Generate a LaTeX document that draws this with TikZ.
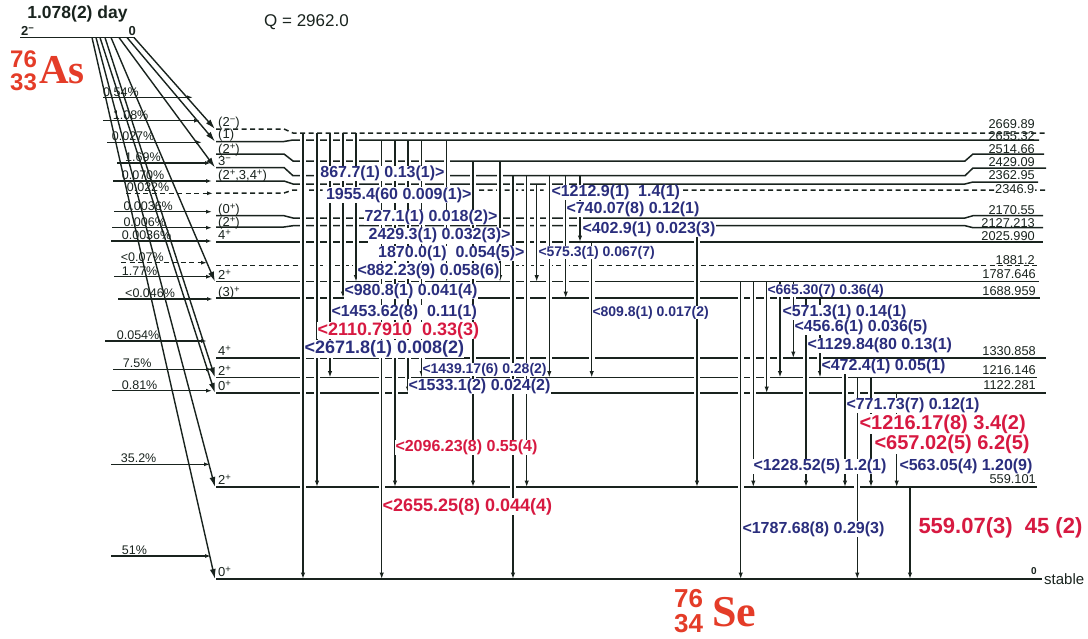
\documentclass[tikz,border=0pt]{standalone}
\usepackage{fontspec}
\setmainfont{Liberation Sans}
\newfontfamily\serifbold{Liberation Serif}
\usetikzlibrary{arrows.meta}
\definecolor{ink}{RGB}{25,35,30}
\definecolor{gblue}{RGB}{42,46,125}
\definecolor{gred}{RGB}{215,25,65}
\definecolor{elred}{RGB}{228,60,40}
\newcommand{\setfs}[1]{\fontsize{#1}{#1}\selectfont}
\newcommand{\spr}[1]{\raisebox{4pt}{\setfs{9.5}#1}}
% level y positions (main part)
\def\yA{133}\def\yB{140}\def\yC{161}\def\yD{175.7}\def\yE{184}\def\yF{190}
\def\yG{218}\def\yH{225.7}\def\yI{242}\def\yJ{265.5}\def\yK{281.7}\def\yL{298}
\def\yM{358}\def\yN{377.5}\def\yO{393}\def\yP{487}\def\yQ{579}
\newcommand{\lvline}[5][]{\draw[lvl,#1] (216,#2) -- (284,#2) -- (293,#3) -- (965,#3) -- (973,#4) -- (#5,#4);}
\newcommand{\gam}[3]{\draw[gam] (#1,#2) -- (#1,#3);}
\newcommand{\pline}[4][]{\draw[pct,#1] (#3,#2) -- (#4,#2);}
\begin{document}
\begin{tikzpicture}[x=1pt,y=-1pt,
  lvl/.style={draw=ink, line width=1.5pt},
  lvldash/.style={dash pattern=on 5pt off 3.5pt},
  gam/.style={draw=ink, line width=1.5pt, -{Latex[length=6.5pt,width=4.5pt]},
     preaction={draw=white, line width=6pt, shorten <=3pt, shorten >=3pt, arrows=-}},
  fan/.style={draw=ink, line width=1.4pt, -{Latex[length=10pt,width=6pt]}},
  pct/.style={draw=ink, line width=1.2pt, -{Latex[length=6pt,width=4pt]}},
  pctno/.style={draw=ink, line width=1.2pt},
  gl/.style={font=\bfseries\setfs{16}, text=gblue, fill=white, inner sep=0.3pt},
  gls/.style={gl, font=\bfseries\setfs{14}},
  glb/.style={gl, font=\bfseries\setfs{18}},
  rl/.style={gl, text=gred},
  rlb/.style={gl, text=gred, font=\bfseries\setfs{18}},
  rlh/.style={gl, text=gred, font=\bfseries\setfs{20}},
  pl/.style={font=\setfs{12.5}, anchor=base west, inner sep=0pt, text=ink},
  spin/.style={font=\setfs{13}, anchor=base west, inner sep=0pt, text=ink},
  en/.style={font=\setfs{12.8}, anchor=base east, inner sep=0pt, text=ink},
]
\useasboundingbox (0,0) rectangle (1088,638);

% ---------- parent ----------
\node[font=\bfseries\setfs{17.5}, text=ink, inner sep=0pt] (halflife) at (77.5,13.5) {1.078(2) day};
\draw[ink, line width=1.6pt] (20,37.5) -- (135,37.5);
\node[font=\bfseries\setfs{13}, anchor=base west, inner sep=0pt, text=ink] (pspin) at (21,35) {2\spr{−}};
\node[font=\bfseries\setfs{13}, anchor=base east, inner sep=0pt, text=ink] (pen) at (136,35) {0};
\node[font=\setfs{17}, anchor=base west, inner sep=0pt, text=ink] (qval) at (264,26) {Q = 2962.0};
\node[font=\bfseries\setfs{24}, anchor=base west, inner sep=0pt, text=elred] (asA) at (10,67) {76};
\node[font=\bfseries\setfs{24}, anchor=base west, inner sep=0pt, text=elred] (asZ) at (10,90.5) {33};
\node[font=\serifbold\bfseries\setfs{41}, anchor=base west, inner sep=0pt, text=elred] (asS) at (39,83) {As};

% ---------- levels ----------
\lvline[lvldash]{129}{\yA}{\yA}{1045}
\lvline{141.5}{\yB}{\yB}{1039}
\lvline{154}{\yC}{154}{1044}
\lvline{167.5}{\yD}{168}{1046}
\lvline{181}{\yE}{182}{1038}
\lvline[lvldash]{193}{\yF}{\yF}{1045}
\lvline{215.7}{\yG}{215.7}{1043}
\lvline{227}{\yH}{227.7}{1043}
\lvline{\yI}{\yI}{\yI}{1043}
\lvline[lvldash]{\yJ}{\yJ}{\yJ}{1037}
\lvline{\yK}{\yK}{\yK}{1039}
\lvline{\yL}{\yL}{\yL}{1040}
\lvline{\yM}{\yM}{\yM}{1046}
\lvline{\yN}{\yN}{\yN}{1037}
\lvline{\yO}{\yO}{\yO}{1046}
\lvline{\yP}{\yP}{\yP}{1037}
\lvline[line width=1.8pt]{\yQ}{\yQ}{\yQ}{1042}

% ---------- spin labels ----------
\node[spin] (s1) at (218,126.8) {(2\spr{−})};
\node[spin] (s2) at (218,138.8) {(1)};
\node[spin] (s3) at (218,153) {(2\spr{+})};
\node[spin] (s4) at (218,165.3) {3\spr{−}};
\node[spin] (s5) at (218,179) {(2\spr{+},3,4\spr{+})};
\node[spin] (s6) at (218,213.3) {(0\spr{+})};
\node[spin] (s7) at (218,226.2) {(2\spr{+})};
\node[spin] (s8) at (218,239.3) {4\spr{+}};
\node[spin] (s9) at (218,279.5) {2\spr{+}};
\node[spin] (s10) at (218,296) {(3)\spr{+}};
\node[spin] (s11) at (218,355) {4\spr{+}};
\node[spin] (s12) at (218,375) {2\spr{+}};
\node[spin] (s13) at (218,390) {0\spr{+}};
\node[spin] (s14) at (218,484.3) {2\spr{+}};
\node[spin] (s15) at (218,576.7) {0\spr{+}};

% ---------- energy labels ----------
\node[en] (e1) at (1035,128) {2669.89};
\node[en] (e2) at (1035,140) {2655.32};
\node[en] (e3) at (1035,153) {2514.66};
\node[en] (e4) at (1035,166) {2429.09};
\node[en] (e5) at (1035,179.5) {2362.95};
\node[en, fill=white, inner sep=0.5pt] (e6) at (1035,193) {2346.9};
\node[en] (e7) at (1035,214) {2170.55};
\node[en] (e8) at (1035,227) {2127.213};
\node[en] (e9) at (1035,240.5) {2025.990};
\node[en] (e10) at (1035,264.5) {1881.2};
\node[en] (e11) at (1036,278.5) {1787.646};
\node[en] (e12) at (1036,295) {1688.959};
\node[en] (e13) at (1036,355) {1330.858};
\node[en] (e14) at (1036,374.3) {1216.146};
\node[en] (e15) at (1036,389.3) {1122.281};
\node[en] (e16) at (1036,483.3) {559.101};
\node[font=\bfseries\setfs{10}, anchor=base east, inner sep=0pt, text=ink] (e17) at (1037,574) {0};
\node[font=\setfs{15}, anchor=west, inner sep=0pt, text=ink] (stable) at (1044,579.5) {stable};

% ---------- beta intensity arrows ----------
\pline{97.3}{103}{193}
\pline{120.7}{103}{200}
\pline{142.3}{107}{202}
\pline{163}{117}{211}
\pline[pctno]{181}{113}{212}
\pline[dash pattern=on 5pt off 3.5pt]{193.3}{126}{213}
\pline{211.7}{114}{212}
\pline{227.7}{112}{212}
\pline{241}{111}{212}
\pline[dash pattern=on 5pt off 3.5pt]{262.7}{121}{207}
\pline{276.7}{114}{212}
\pline{299}{118}{213}
\pline[pctno]{341}{105}{207}
\pline{369.3}{113}{212}
\pline{390.7}{112}{212}
\pline{464.3}{111}{210}
\pline{556}{111}{211}

\node[pl] (p1) at (103,96) {0.54\%};
\node[pl] (p2) at (112.7,119.2) {1.08\%};
\node[pl] (p3) at (111.7,140.8) {0.027\%};
\node[pl] (p4) at (125,161.5) {1.69\%};
\node[pl] (p5) at (121.7,179.5) {0.070\%};
\node[pl] (p6) at (126.7,191.8) {0.022\%};
\node[pl] (p7) at (123.3,210.2) {0.0036\%};
\node[pl] (p8) at (123.3,226.2) {0.006\%};
\node[pl] (p9) at (121.7,239.5) {0.0036\%};
\node[pl] (p10) at (120.7,261.2) {<0.07\%};
\node[pl] (p11) at (121.7,275.2) {1.77\%};
\node[pl] (p12) at (125,297.5) {<0.046\%};
\node[pl] (p13) at (116.7,339.5) {0.054\%};
\node[pl] (p14) at (122.7,367.8) {7.5\%};
\node[pl] (p15) at (121.7,389.2) {0.81\%};
\node[pl] (p16) at (120.7,462.8) {35.2\%};
\node[pl] (p17) at (121.7,554.5) {51\%};

% ---------- beta feeding lines from parent ----------
\draw[fan] (92,37.5) -- (215,\yQ);
\draw[fan] (96,37.5) -- (215,\yP);
\draw[fan] (100,37.5) -- (215,\yO);
\draw[fan] (105,37.5) -- (215,\yN);
\draw[fan] (111,37.5) -- (215,\yK);
\draw[fan] (119,37.5) -- (215,167.5);
\draw[fan] (127,37.5) -- (215,141.5);
\draw[fan] (134,37.5) -- (215,129);

% ---------- gamma transitions ----------
\gam{303}{\yA}{\yQ}
\gam{317}{\yA}{\yP}
\gam{330}{\yA}{\yN}
\gam{343}{\yA}{\yL}
\gam{356}{\yA}{\yK}
\gam{381.7}{\yB}{\yQ}
\gam{395}{\yB}{\yP}
\gam{408}{\yB}{\yO}
\gam{421.7}{\yB}{\yN}
\gam{446.7}{\yB}{\yK}
\gam{473}{\yC}{\yP}
\gam{500}{\yC}{\yK}
\gam{513}{\yD}{\yQ}
\gam{526.7}{\yD}{\yP}
\gam{536.7}{\yE}{\yK}
\gam{549.3}{\yD}{\yN}
\gam{565.7}{\yD}{\yL}
\gam{580}{\yD}{\yI}
\gam{591.7}{\yI}{\yN}
\gam{697}{\yH}{\yP}
\gam{740.7}{\yK}{\yQ}
\gam{753.3}{\yK}{\yP}
\gam{766.7}{\yK}{\yO}
\gam{780}{\yK}{\yN}
\gam{793.3}{\yK}{\yM}
\gam{806}{\yL}{\yP}
\gam{820}{\yL}{\yN}
\gam{845}{\yM}{\yP}
\gam{857.3}{\yN}{\yQ}
\gam{871}{\yN}{\yP}
\gam{896.7}{\yO}{\yP}
\gam{910}{\yP}{\yQ}

% ---------- gamma labels ----------
\node[gl, anchor=east] (g1) at (445,173.5) {867.7(1) 0.13(1)>};
\node[gl, anchor=east] (g2) at (472,195) {1955.4(60 0.009(1)>};
\node[gl, anchor=east] (g3) at (498,217.5) {727.1(1) 0.018(2)>};
\node[gl, anchor=east] (g4) at (511,235.8) {2429.3(1) 0.032(3)>};
\node[gl, anchor=east] (g5) at (525,253.5) {1870.0(1)\ \ 0.054(5)>};
\node[gl, anchor=west] (g6) at (357,271) {<882.23(9) 0.058(6)};
\node[gl, anchor=west] (g7) at (344,291.5) {<980.8(1) 0.041(4)};
\node[gl, anchor=west] (g8) at (331,312.5) {<1453.62(8)\ \ 0.11(1)};
\node[rlb, anchor=west] (g9) at (317,330.5) {<2110.7910\ \ 0.33(3)};
\node[glb, anchor=west] (g10) at (304,349) {<2671.8(1) 0.008(2)};
\node[gls, anchor=west] (g11) at (422,369.5) {<1439.17(6) 0.28(2)};
\node[gl, anchor=west] (g12) at (408,386.5) {<1533.1(2) 0.024(2)};
\node[rl, anchor=west] (g13) at (395,447.5) {<2096.23(8) 0.55(4)};
\node[rlb, anchor=west] (g14) at (382,506.5) {<2655.25(8) 0.044(4)};
\node[gl, anchor=west] (g15) at (551,192.5) {<1212.9(1)\ \ 1.4(1)};
\node[gl, anchor=west] (g16) at (566,209) {<740.07(8) 0.12(1)};
\node[gl, anchor=west] (g17) at (582,229) {<402.9(1) 0.023(3)};
\node[gls, anchor=west] (g18) at (538,252.5) {<575.3(1) 0.067(7)};
\node[gls, anchor=west] (g19) at (592,312.5) {<809.8(1) 0.017(2)};
\node[gls, anchor=west] (g20) at (767,290.5) {<665.30(7) 0.36(4)};
\node[gl, anchor=west] (g21) at (782,312.3) {<571.3(1) 0.14(1)};
\node[gl, anchor=west] (g22) at (794,327.3) {<456.6(1) 0.036(5)};
\node[gl, anchor=west] (g23) at (807,345.7) {<1129.84(80 0.13(1)};
\node[gl, anchor=west] (g24) at (821,366.7) {<472.4(1) 0.05(1)};
\node[gl, anchor=west] (g25) at (846,405.7) {<771.73(7) 0.12(1)};
\node[rlh, anchor=west] (g26) at (859,424) {<1216.17(8) 3.4(2)};
\node[rlh, anchor=west] (g27) at (874,444) {<657.02(5) 6.2(5)};
\node[gl, anchor=west] (g28) at (753,466.7) {<1228.52(5) 1.2(1)};
\node[gl, anchor=west] (g29) at (899,466.7) {<563.05(4) 1.20(9)};
\node[gl, anchor=west] (g30) at (742,529) {<1787.68(8) 0.29(3)};
\node[gl, text=gred, font=\bfseries\setfs{22}, anchor=west] (g31) at (918,527.5) {559.07(3)\ \ 45 (2)};

% ---------- daughter ----------
\node[font=\bfseries\setfs{26}, anchor=base west, inner sep=0pt, text=elred] (seA) at (674,607) {76};
\node[font=\bfseries\setfs{26}, anchor=base west, inner sep=0pt, text=elred] (seZ) at (674,632) {34};
\node[font=\serifbold\bfseries\setfs{44}, anchor=base west, inner sep=0pt, text=elred] (seS) at (712,626) {Se};
\end{tikzpicture}
\end{document}
